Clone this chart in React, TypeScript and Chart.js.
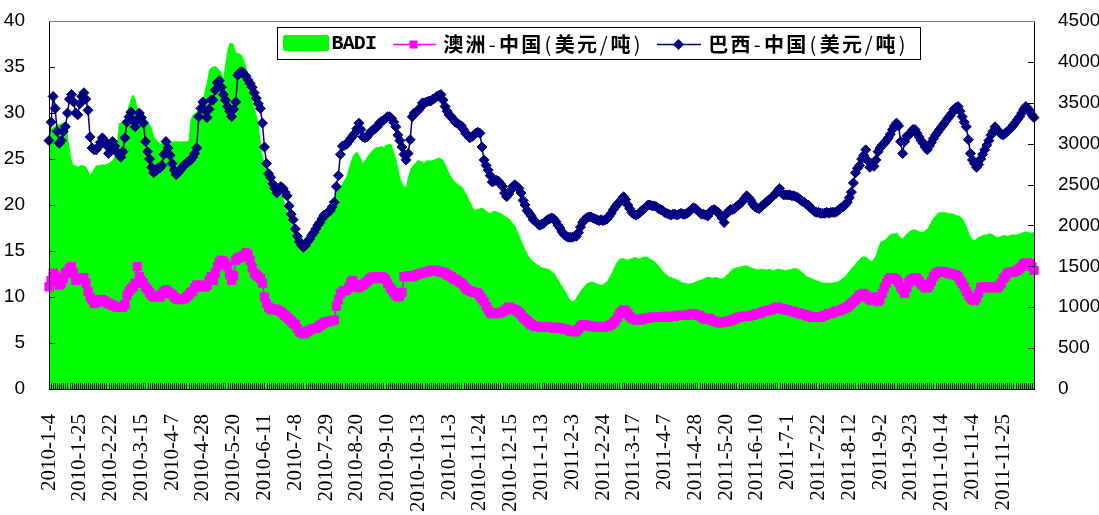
import React, { useEffect, useRef } from "react";
import { Chart, registerables } from "chart.js";

Chart.register(...registerables);

// Tick labels shown every 15 trading days
const tickLabels: string[] = [
  "2010-1-4", "2010-1-25", "2010-2-22", "2010-3-15", "2010-4-7", "2010-4-28", "2010-5-20", "2010-6-11",
  "2010-7-8", "2010-7-29", "2010-8-20", "2010-9-10", "2010-10-13", "2010-11-3", "2010-11-24", "2010-12-15",
  "2011-1-13", "2011-2-3", "2011-2-24", "2011-3-17", "2011-4-7", "2011-4-28", "2011-5-20", "2011-6-10",
  "2011-7-1", "2011-7-22", "2011-8-12", "2011-9-2", "2011-9-23", "2011-10-14", "2011-11-4", "2011-11-25",
];
const LABEL_EVERY = 15;

// BADI index (right axis)
const badi: number[] = [
  3150,3180,3200,3220,3230,3240,3250,3260,3250,3150,
  2950,2800,2740,2730,2720,2730,2740,2730,2720,2680,
  2620,2650,2700,2730,2740,2740,2750,2740,2750,2760,
  2780,2800,2840,3000,3250,3260,3260,3300,3400,3480,
  3560,3600,3560,3450,3380,3350,3340,3310,3280,3240,
  3200,3100,3060,3030,3010,3000,3010,3030,3040,3030,
  3020,3030,3030,3025,3025,3030,3030,3030,3035,3300,
  3350,3370,3390,3450,3500,3530,3650,3760,3900,3930,
  3940,3950,3930,3900,3880,3800,4000,4150,4230,4230,
  4220,4120,4110,4100,4080,4020,3950,3860,3720,3600,
  3460,3350,3280,3050,2860,2780,2710,2640,2590,2560,
  2520,2490,2440,2390,2350,2270,2200,2100,2020,1990,
  1950,1920,1880,1860,1830,1820,1840,1860,1890,1920,
  1960,2000,2030,2070,2100,2130,2170,2220,2270,2330,
  2400,2440,2480,2510,2560,2600,2700,2780,2840,2880,
  2900,2870,2820,2760,2800,2840,2870,2900,2930,2950,
  2960,2960,2970,2960,2980,2990,3000,2990,2900,2830,
  2720,2600,2520,2480,2470,2600,2680,2720,2750,2780,
  2800,2790,2780,2770,2790,2800,2790,2800,2810,2820,
  2830,2820,2800,2760,2700,2640,2600,2560,2530,2510,
  2490,2480,2450,2400,2360,2300,2250,2200,2190,2200,
  2210,2220,2200,2180,2160,2150,2170,2180,2170,2160,
  2150,2140,2120,2100,2090,2060,2030,2000,1950,1890,
  1830,1770,1710,1660,1610,1580,1560,1540,1520,1510,
  1490,1480,1480,1470,1460,1440,1420,1390,1340,1300,
  1260,1220,1180,1130,1090,1070,1080,1120,1160,1200,
  1230,1260,1290,1300,1310,1310,1300,1290,1280,1270,
  1280,1300,1320,1360,1410,1460,1520,1560,1590,1600,
  1600,1590,1580,1590,1600,1610,1610,1600,1600,1610,
  1620,1620,1610,1590,1580,1560,1540,1510,1480,1450,
  1420,1400,1380,1370,1360,1350,1340,1330,1310,1300,
  1300,1290,1290,1295,1300,1310,1320,1330,1340,1350,
  1360,1370,1370,1360,1360,1370,1360,1350,1350,1360,
  1390,1410,1440,1470,1480,1490,1490,1500,1500,1510,
  1510,1500,1490,1480,1470,1460,1460,1470,1470,1460,
  1460,1470,1460,1450,1460,1470,1470,1460,1460,1450,
  1460,1460,1470,1480,1480,1470,1450,1430,1410,1380,
  1370,1360,1350,1340,1330,1320,1310,1300,1300,1300,
  1300,1300,1300,1310,1310,1320,1340,1360,1380,1410,
  1440,1480,1500,1530,1560,1590,1610,1620,1620,1600,
  1570,1560,1600,1640,1720,1790,1810,1820,1840,1870,
  1890,1900,1900,1910,1890,1850,1840,1870,1900,1920,
  1940,1950,1950,1940,1930,1920,1920,1940,1960,2000,
  2050,2090,2120,2150,2160,2160,2160,2160,2150,2150,
  2150,2140,2130,2120,2110,2090,2050,2000,1930,1870,
  1830,1820,1840,1860,1870,1880,1890,1890,1900,1900,
  1890,1870,1860,1860,1870,1880,1880,1870,1880,1890,
  1890,1890,1890,1900,1910,1920,1930,1920,1910,1910,
  1920,
];

// 澳洲-中国 (USD/t, left axis)
const australia: number[] = [
  11.1,11.8,12.6,12.3,11.7,11.3,11.5,12.0,12.6,12.8,
  13.1,13.3,12.6,11.8,11.9,12.0,12.1,12.1,11.5,10.6,
  10.0,9.7,9.3,9.4,9.6,9.7,9.7,9.6,9.4,9.3,
  9.2,9.1,9.0,8.9,8.9,8.9,8.9,9.2,10.2,10.6,
  10.9,11.1,11.5,13.3,12.2,11.8,11.5,11.1,10.8,10.5,
  10.2,10.0,10.0,10.1,10.0,10.3,10.6,10.8,10.6,10.4,
  10.3,10.0,9.8,9.7,9.8,9.8,9.8,10.0,10.2,10.5,
  10.6,11.0,11.3,11.3,11.2,11.1,11.1,11.3,11.8,12.2,
  11.8,12.6,13.3,13.8,14.0,13.9,13.6,13.3,12.4,11.8,
  12.3,14.0,14.2,14.3,14.4,14.5,14.8,14.6,14.0,13.2,
  12.6,12.4,12.2,12.0,11.5,10.0,9.3,8.9,8.7,8.6,
  8.7,8.6,8.5,8.4,8.2,8.0,7.8,7.6,7.4,7.1,
  7.0,6.6,6.2,6.1,6.0,6.1,6.3,6.4,6.5,6.6,
  6.6,6.7,6.9,7.0,7.2,7.3,7.3,7.4,7.4,7.5,
  9.0,9.7,10.4,10.6,10.7,10.7,11.0,11.6,11.8,11.4,
  11.1,11.0,11.2,11.3,11.5,11.7,11.9,12.1,12.2,12.1,
  12.0,12.2,12.2,12.1,11.9,11.5,11.1,10.8,10.5,10.2,
  10.0,10.1,10.5,12.2,12.2,12.3,12.2,12.2,12.3,12.4,
  12.5,12.6,12.6,12.7,12.7,12.8,12.9,12.9,12.9,12.8,
  12.8,12.7,12.7,12.6,12.4,12.3,12.2,12.0,11.9,11.8,
  11.6,11.5,11.3,11.0,10.8,10.7,10.6,10.5,10.5,10.4,
  10.1,9.8,9.5,9.0,8.6,8.3,8.2,8.2,8.3,8.2,
  8.3,8.4,8.5,8.7,8.9,8.8,8.7,8.6,8.5,8.3,
  8.1,7.8,7.6,7.4,7.2,7.0,6.9,6.8,6.8,6.7,
  6.7,6.7,6.7,6.8,6.7,6.7,6.6,6.7,6.7,6.6,
  6.6,6.5,6.5,6.4,6.3,6.3,6.2,6.3,6.5,6.8,
  7.0,7.0,6.9,6.9,6.8,6.8,6.8,6.7,6.8,6.7,
  6.7,6.8,6.8,6.9,7.0,7.2,7.4,7.8,8.2,8.4,
  8.6,8.5,8.2,7.9,7.7,7.6,7.5,7.5,7.5,7.6,
  7.6,7.7,7.7,7.8,7.8,7.8,7.8,7.8,7.8,7.8,
  7.9,7.8,7.8,7.9,7.9,7.9,8.0,8.0,8.0,8.0,
  8.0,8.0,8.1,8.1,8.2,8.1,8.0,8.0,7.8,7.7,
  7.6,7.6,7.7,7.5,7.4,7.3,7.2,7.2,7.2,7.3,
  7.3,7.4,7.4,7.5,7.6,7.7,7.8,7.8,7.9,7.9,
  7.9,7.9,8.0,8.0,8.1,8.2,8.2,8.3,8.4,8.5,
  8.5,8.6,8.6,8.7,8.8,8.9,8.8,8.7,8.7,8.6,
  8.6,8.5,8.5,8.4,8.3,8.3,8.2,8.1,8.1,8.0,
  7.9,7.9,7.8,7.8,7.8,7.8,7.8,7.9,8.0,8.1,
  8.2,8.2,8.3,8.4,8.5,8.5,8.6,8.7,8.8,8.9,
  9.1,9.3,9.5,9.7,9.9,10.2,10.3,10.4,10.2,9.9,
  9.7,9.6,10.0,10.0,9.5,9.8,10.4,11.0,11.5,11.9,
  12.1,12.1,12.0,11.9,11.6,11.1,10.8,10.4,11.0,11.6,
  11.9,12.0,12.1,12.0,11.7,11.4,11.2,11.0,11.0,11.3,
  11.7,12.2,12.5,12.7,12.7,12.8,12.7,12.7,12.6,12.6,
  12.5,12.4,12.4,12.2,11.8,11.5,11.1,10.6,10.2,9.9,
  9.7,9.6,9.9,10.4,11.0,11.1,11.1,11.0,11.0,11.1,
  11.1,11.0,11.0,11.2,11.5,12.0,12.2,12.6,12.7,12.7,
  12.7,12.8,12.9,13.1,13.3,13.6,13.7,13.7,13.6,13.3,
  12.9,
];

// 巴西-中国 (USD/t, left axis)
const brazil: number[] = [
  27.0,29.0,31.8,30.5,28.0,26.7,27.0,28.0,28.5,30.0,
  31.5,32.0,31.2,30.0,29.8,31.0,31.8,32.2,31.5,30.3,
  27.4,26.2,26.0,26.0,26.3,26.8,27.3,27.0,26.5,25.6,
  26.2,26.9,26.4,25.8,25.5,25.2,25.8,27.3,29.0,29.6,
  30.1,29.2,28.5,29.3,30.0,29.5,28.9,26.9,25.8,25.0,
  24.1,23.5,23.7,24.0,24.0,24.3,25.5,26.9,26.2,25.4,
  24.5,23.8,23.3,23.5,23.8,24.1,24.4,24.6,24.7,24.9,
  25.2,25.6,26.2,29.6,30.5,31.2,30.3,29.5,30.4,31.4,
  31.4,32.5,33.3,33.5,32.8,32.0,31.4,30.7,30.2,29.6,
  30.4,31.2,34.1,34.4,34.5,34.2,34.0,33.6,33.2,32.8,
  32.2,31.6,31.0,30.5,28.9,26.3,24.5,23.4,23.0,22.3,
  21.8,21.3,21.6,22.0,21.8,21.4,21.0,19.9,19.0,18.4,
  17.4,16.6,16.0,15.6,15.4,15.6,16.0,16.3,16.7,17.0,
  17.4,17.8,18.1,18.5,18.9,19.0,19.2,19.4,19.8,20.3,
  22.0,23.2,25.5,26.4,26.5,26.6,26.9,27.2,27.5,27.8,
  28.3,28.9,28.2,27.4,27.3,27.4,27.7,28.0,28.2,28.3,
  28.5,28.9,29.1,29.2,29.4,29.6,29.6,29.4,29.0,28.5,
  27.6,27.0,26.3,25.5,24.9,25.6,27.1,29.6,30.0,30.1,
  30.3,30.6,31.1,31.1,31.2,31.3,31.3,31.5,31.6,31.8,
  31.9,32.0,31.4,30.7,30.2,29.8,29.6,29.3,29.0,28.9,
  28.7,28.6,28.2,27.8,27.6,27.3,27.4,27.6,27.8,27.9,
  27.8,26.3,24.9,24.3,23.8,23.2,22.5,22.6,22.7,22.6,
  22.3,22.0,21.3,20.9,21.2,21.6,22.0,22.2,22.0,21.8,
  21.3,20.5,20.0,19.4,19.1,18.8,18.4,18.2,18.0,17.8,
  17.9,18.0,18.2,18.4,18.5,18.6,18.5,18.2,17.8,17.5,
  17.1,16.8,16.6,16.5,16.5,16.5,16.6,16.6,17.0,17.6,
  18.1,18.4,18.6,18.7,18.7,18.6,18.5,18.4,18.3,18.4,
  18.3,18.4,18.5,18.8,19.1,19.5,19.8,20.1,20.3,20.6,
  20.9,20.6,20.0,19.6,19.2,19.0,18.9,19.0,19.2,19.4,
  19.6,19.8,20.0,20.0,19.9,19.9,19.8,19.6,19.5,19.4,
  19.2,19.1,19.0,18.9,19.0,19.0,18.9,19.0,19.1,19.0,
  19.0,19.1,19.3,19.5,19.7,19.6,19.4,19.2,19.0,19.0,
  18.9,18.8,19.2,19.4,19.5,19.4,19.2,18.9,18.6,18.1,
  19.0,19.3,19.5,19.5,19.6,19.8,20.0,20.2,20.4,20.7,
  21.0,20.8,20.5,20.1,19.8,19.7,19.6,19.8,20.0,20.2,
  20.4,20.6,20.8,21.0,21.2,21.5,21.8,21.3,21.1,21.1,
  21.1,21.1,21.0,21.0,20.9,20.8,20.6,20.4,20.3,20.1,
  20.0,19.7,19.5,19.3,19.2,19.2,19.1,19.1,19.1,19.2,
  19.1,19.2,19.2,19.2,19.3,19.5,19.7,19.8,20.0,20.3,
  20.8,21.4,22.4,23.5,24.0,24.3,25.0,25.4,26.0,24.8,
  24.1,24.5,24.2,24.9,25.8,26.2,26.5,26.7,27.0,27.3,
  27.7,28.2,28.6,28.9,28.6,26.9,25.6,26.9,27.5,27.6,
  27.9,28.2,28.2,27.8,27.4,27.0,26.7,26.3,26.0,26.4,
  26.8,27.2,27.6,27.9,28.2,28.5,28.8,29.1,29.4,29.7,
  30.0,30.4,30.6,30.7,30.2,29.6,29.0,28.5,27.1,25.6,
  24.9,24.5,24.1,24.4,25.0,25.5,26.0,26.5,27.0,27.6,
  28.0,28.5,28.2,27.9,27.7,27.6,27.8,28.0,28.2,28.4,
  28.7,29.0,29.3,29.6,30.0,30.4,30.7,30.5,30.2,29.8,
  29.5,
];

const categories: number[] = badi.map((_, i) => i);

const GREEN = "#00FF00";
const MAGENTA = "#FF00FF";
const NAVY = "#000080";

const overlayPlugin = {
  id: "overlay",
  afterDatasetsDraw(chart: any) {
    const { ctx, chartArea: a, scales } = chart;
    ctx.save();
    ctx.lineWidth = 1;
    ctx.strokeStyle = "#000";
    // category tick marks (inside)
    ctx.beginPath();
    for (let i = 0; i < categories.length; i++) {
      const px = Math.round(scales.x.getPixelForValue(i)) + 0.5;
      ctx.moveTo(px, a.bottom);
      ctx.lineTo(px, a.bottom - 6);
    }
    // left ticks
    for (let v = 0; v <= 40; v += 5) {
      const py = Math.round(scales.y.getPixelForValue(v)) + 0.5;
      ctx.moveTo(a.left, py);
      ctx.lineTo(a.left + 6, py);
    }
    for (let v = 0; v <= 4500; v += 500) {
      const py = Math.round(scales.y1.getPixelForValue(v)) + 0.5;
      ctx.moveTo(a.right - 6, py);
      ctx.lineTo(a.right, py);
    }
    ctx.stroke();
    // axis lines
    ctx.beginPath();
    ctx.moveTo(a.left + 0.5, a.top);
    ctx.lineTo(a.left + 0.5, a.bottom + 1);
    ctx.moveTo(a.right + 0.5, a.top);
    ctx.lineTo(a.right + 0.5, a.bottom + 1);
    ctx.moveTo(a.left, a.bottom + 0.5);
    ctx.lineTo(a.right + 1, a.bottom + 0.5);
    ctx.stroke();
    ctx.strokeStyle = "#808080";
    ctx.beginPath();
    ctx.moveTo(a.left, a.top + 0.5);
    ctx.lineTo(a.right + 1, a.top + 0.5);
    ctx.stroke();

    // legend
    const lx = 277, ly = 27, lw = 643, lh = 32;
    ctx.fillStyle = "#fff";
    ctx.fillRect(lx, ly, lw, lh);
    ctx.strokeStyle = "#000";
    ctx.strokeRect(lx + 0.5, ly + 0.5, lw, lh);
    const cy = 44;
    // BADI swatch
    ctx.fillStyle = GREEN;
    ctx.beginPath();
    (ctx as any).roundRect ? (ctx as any).roundRect(283, 35, 46, 16, 2) : ctx.rect(283, 35, 46, 16);
    ctx.fill();
    const A = 22.3;
    const drawText = (text: string, x0: number, latinFont: string) => {
      let x = x0;
      ctx.fillStyle = "#000";
      ctx.textAlign = "center";
      ctx.textBaseline = "middle";
      for (const ch of text) {
        const wide = ch.charCodeAt(0) > 255;
        const adv = wide ? A : A / 2;
        ctx.font = wide ? 'bold 20px "Noto Sans CJK SC"' : latinFont;
        ctx.fillText(ch, x + adv / 2, cy);
        x += adv;
      }
    };
    drawText("BADI", 332, 'bold 20px "Liberation Mono"');
    // Australia marker
    ctx.strokeStyle = MAGENTA;
    ctx.lineWidth = 1.5;
    ctx.beginPath();
    ctx.moveTo(393, cy + 0.5);
    ctx.lineTo(436, cy + 0.5);
    ctx.stroke();
    ctx.fillStyle = MAGENTA;
    ctx.fillRect(409.5, cy - 3.5, 8, 8);
    drawText("澳洲-中国(美元/吨)", 442, '20px "Noto Sans CJK SC"');
    // Brazil marker
    ctx.strokeStyle = NAVY;
    ctx.beginPath();
    ctx.moveTo(657, cy + 0.5);
    ctx.lineTo(701, cy + 0.5);
    ctx.stroke();
    ctx.fillStyle = NAVY;
    ctx.beginPath();
    ctx.moveTo(678.5, cy + 0.5 - 5.5);
    ctx.lineTo(684, cy + 0.5);
    ctx.lineTo(678.5, cy + 0.5 + 5.5);
    ctx.lineTo(673, cy + 0.5);
    ctx.closePath();
    ctx.fill();
    drawText("巴西-中国(美元/吨)", 707, '20px "Noto Sans CJK SC"');
    ctx.restore();
  },
};

const fixVertical = (w: number) => (s: any) => {
  s.width = w;
  s.paddingTop = 0;
  s.paddingBottom = 0;
};

export default function App() {
  const ref = useRef<HTMLCanvasElement | null>(null);
  useEffect(() => {
    if (!ref.current) return;
    const chart = new Chart(ref.current, {
      type: "line",
      data: {
        labels: categories,
        datasets: [
          {
            label: "巴西-中国(美元/吨)",
            data: brazil,
            yAxisID: "y",
            borderColor: NAVY,
            borderWidth: 1.5,
            pointStyle: "rectRot",
            pointRadius: 5,
            pointBackgroundColor: NAVY,
            pointBorderColor: NAVY,
            pointBorderWidth: 1,
            tension: 0,
            fill: false,
            order: 1,
          },
          {
            label: "澳洲-中国(美元/吨)",
            data: australia,
            yAxisID: "y",
            borderColor: MAGENTA,
            borderWidth: 1.5,
            pointStyle: "rect",
            pointRadius: 5.8,
            pointBackgroundColor: MAGENTA,
            pointBorderColor: MAGENTA,
            pointBorderWidth: 1,
            tension: 0,
            fill: false,
            order: 2,
          },
          {
            label: "BADI",
            data: badi,
            yAxisID: "y1",
            borderWidth: 0,
            borderColor: GREEN,
            backgroundColor: GREEN,
            pointRadius: 0,
            tension: 0,
            fill: "origin",
            order: 3,
          },
        ],
      },
      options: {
        animation: false,
        responsive: false,
        devicePixelRatio: 1,
        layout: { padding: { top: 21, left: 0, right: 0, bottom: 0 } },
        plugins: { legend: { display: false }, tooltip: { enabled: false } },
        scales: {
          x: {
            type: "category",
            offset: false,
            grid: { display: false },
            border: { display: false },
            ticks: {
              autoSkip: false,
              minRotation: 90,
              maxRotation: 90,
              padding: 17,
              color: "#000",
              font: { family: "Liberation Serif", size: 21 },
              callback: (_v: any, i: number) =>
                i % LABEL_EVERY === 0 ? tickLabels[i / LABEL_EVERY] ?? "" : "",
            },
            afterFit: (s: any) => {
              s.height = 126;
              s.paddingLeft = 0;
              s.paddingRight = 0;
            },
          },
          y: {
            position: "left",
            min: 0,
            max: 40,
            grid: { display: false },
            border: { display: false },
            ticks: {
              stepSize: 5,
              padding: 16,
              color: "#000",
              font: { family: "Liberation Sans", size: 19 },
              callback: (v: any) => String(v),
            },
            afterFit: fixVertical(49),
          },
          y1: {
            position: "right",
            min: 0,
            max: 4500,
            grid: { display: false },
            border: { display: false },
            ticks: {
              stepSize: 500,
              padding: 16,
              color: "#000",
              font: { family: "Liberation Sans", size: 19 },
              callback: (v: any) => String(v),
            },
            afterFit: fixVertical(65),
          },
        },
      },
      plugins: [overlayPlugin],
    });
    return () => chart.destroy();
  }, []);
  return (
    <div style={{ position: "absolute", left: 0, top: 0, width: 1099, height: 515, background: "#fff" }}>
      <canvas ref={ref} width={1099} height={515} />
    </div>
  );
}
